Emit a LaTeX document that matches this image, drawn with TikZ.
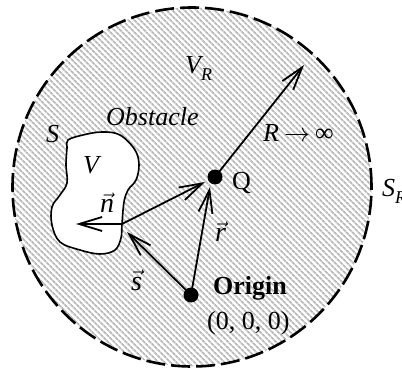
\documentclass[tikz,border=0pt]{standalone}
\usepackage{fix-cm}
\usepackage{fontspec}
\setmainfont{Liberation Serif}
\usetikzlibrary{arrows.meta,patterns.meta}
\tikzset{
  lbl/.style={anchor=base west, inner sep=0pt, font=\fontsize{26}{30}\selectfont},
  vecarrow/.style={-{Straight Barb[length=23pt,width=14pt]}, line width=1.8pt},
  dot/.style={circle, fill=black, minimum size=15pt, inner sep=0pt},
  boundary/.style={line width=2.6pt, dash pattern=on 19pt off 6pt},
  hatch/.style={pattern={Lines[angle=-45,distance=4pt,line width=1.8pt]}, pattern color=black!27}
}
\newcommand{\myvec}[1]{$\vec{\mbox{\fontsize{28}{30}\selectfont\itshape #1}}$}
\begin{document}
\begin{tikzpicture}[x=1pt,y=1pt]
\useasboundingbox (0,0) rectangle (402,370);
% outer region
\fill[white] (192,183) circle (179.5);
\fill[hatch] (192,183) circle (179.5);
\draw[boundary] (192,183) circle (179.5);
% obstacle
\draw[line width=1.6pt, fill=white] plot[smooth cycle, tension=0.6] coordinates {
 (68,230) (83,235) (102,238) (120,235) (135,220) (139,205) (136,190) (128,180)
 (124,168) (122,146) (121,132) (115,120) (100,116) (80,120) (60,128) (52,145)
 (52,163) (60,175) (67,187) (66,205) (67,222)};
% points
\node[dot] (Q) at (215,193) {};
\node[dot] (O) at (191,75) {};
\coordinate (P) at (122,146);
\coordinate (Rtip) at (304,305);
\coordinate (ntip) at (76,146);
\coordinate (stip) at (127,138);
\coordinate (rtip) at (210,183);
\coordinate (qtip) at (205,188);
% vectors
\draw[vecarrow] (Q.center) -- (Rtip);
\draw[vecarrow] (P) -- (ntip);
\draw[vecarrow] (P) -- (qtip);
\draw[vecarrow] (O.center) -- (stip);
\draw[vecarrow] (O.center) -- (rtip);
% labels
\node[lbl] (obst) at (106,244) {\itshape Obstacle};
\node[lbl] (Slbl) at (46,227) {\itshape S};
\node[lbl] (Vlbl) at (83,196) {\itshape V};
\node[lbl] (VRlbl) at (185,296) {\itshape V\raisebox{-0.25em}{\fontsize{18}{20}\selectfont R}};
\node[lbl] (Qlbl) at (232,180) {Q};
\node[lbl] (Rlbl) at (263,228) {\itshape R\upshape\hspace{5pt}$\rightarrow$\hspace{5pt}∞};
\node[lbl] (SRlbl) at (382,173) {\itshape S\raisebox{-0.25em}{\fontsize{18}{20}\selectfont R}};
\node[lbl] (nlbl) at (100,157) {\myvec{n}};
\node[lbl] (rlbl) at (215,128) {\myvec{r}};
\node[lbl] (slbl) at (131,80) {\myvec{s}};
\node[lbl] (orig) at (213,75) {\bfseries Origin};
\node[lbl] (coord) at (207,41) {(0, 0, 0)};
\end{tikzpicture}
\end{document}
